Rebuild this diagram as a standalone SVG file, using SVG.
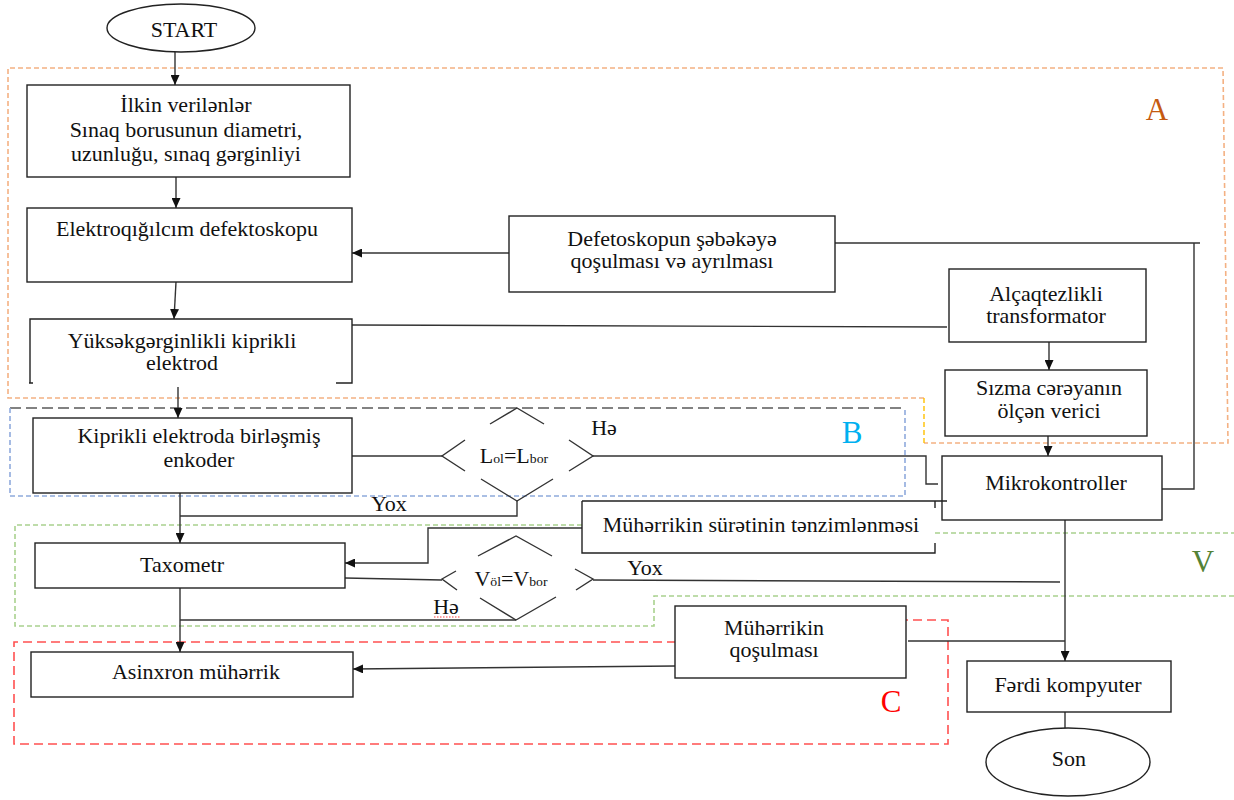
<svg xmlns="http://www.w3.org/2000/svg" width="1234" height="800" viewBox="0 0 1234 800">
<style>
.bg{fill:#fff}
.box{fill:#fff;stroke:#222;stroke-width:1.4}
.open{fill:none;stroke:#222;stroke-width:1.4}
.ln{fill:none;stroke:#333;stroke-width:1.4}
.arr{marker-end:url(#ah)}
.t{font-family:'Liberation Serif','DejaVu Serif',serif;font-size:20px;fill:#111;text-anchor:middle;transform-box:fill-box;transform-origin:center;transform:scaleX(1.1)}
.sub{font-size:12.5px}
.big{font-family:'Liberation Serif','DejaVu Serif',serif;font-size:31px;text-anchor:middle}
.dA{fill:none;stroke:#F4B183;stroke-width:1.6;stroke-dasharray:5 3}
.dY{fill:none;stroke:#FFC000;stroke-width:1.4;stroke-dasharray:5 3}
.dBt{fill:none;stroke:#595959;stroke-width:1.6;stroke-dasharray:11 5}
.dB{fill:none;stroke:#8FAADC;stroke-width:1.6;stroke-dasharray:5 3}
.dV{fill:none;stroke:#A9D18E;stroke-width:1.6;stroke-dasharray:5 3}
.dC{fill:none;stroke:#FF5050;stroke-width:1.6;stroke-dasharray:9 5}
.sq{fill:none;stroke:#FF4040;stroke-width:1.2;stroke-dasharray:1.5 1.5}
</style>
<defs>
<marker id="ah" markerUnits="userSpaceOnUse" markerWidth="10" markerHeight="9" refX="10" refY="4.5" orient="auto">
<path d="M0,0 L10,4.5 L0,9 z" fill="#111"/>
</marker>
</defs>
<rect class="bg" x="0" y="0" width="1234" height="800"/>

<g id="regions">
<path class="dA" d="M924,398 H8 V68 H1223 L1228,443 H924"/>
<path class="dY" d="M924,398 V443"/>
<text class="big" x="1157" y="120" fill="#C55A11">A</text>
<path class="dBt" d="M10,408 H905"/>
<path class="dB" d="M10,408 V496 H905 V408"/>
<text class="big" x="852" y="443" fill="#00B0F0">B</text>
<path class="dV" d="M582,525 H15 V626 H654 V596 H1234"/>
<path class="dV" d="M935,533 H1234"/>
<text class="big" x="1203" y="572" fill="#548235">V</text>
<path class="dC" d="M676,642 H14 V744 H948 V620 H902"/>
<text class="big" x="891" y="712" fill="#FF0000">C</text>
</g>

<g id="connectors">
<path class="ln arr" d="M175,52 V85"/>
<path class="ln arr" d="M176,177 V208"/>
<path class="ln arr" d="M176,282 L174,319"/>
<path class="ln arr" d="M509,253 H352"/>
<path class="ln" d="M352,325 L947,327"/>
<path class="ln" d="M835,243 H1200 M1194,243 V489 H1162"/>
<path class="ln arr" d="M1049,342 V370"/>
<path class="ln arr" d="M1048,436 V456"/>
<path class="ln arr" d="M178,387 V418"/>
<path class="ln" d="M352,456 H442"/>
<path class="ln" d="M593,456 H926 V484 H938"/>
<path class="ln" d="M517,501 V516 H180"/>
<path class="ln arr" d="M180,493 V543"/>
<path class="ln arr" d="M582,528 H428 V563 H345"/>
<path class="ln" d="M345,578 L442,580"/>
<path class="ln" d="M593,580 L1060,582"/>
<path class="ln" d="M516,620 H180"/>
<path class="ln arr" d="M180,588 V652"/>
<path class="ln arr" d="M1065,520 V661"/>
<path class="ln" d="M908,641 H1065"/>
<path class="ln arr" d="M676,666 L353,669"/>
<path class="ln" d="M1065,712 V730"/>
<text class="t" x="604" y="435">Hə</text>
<text class="t" x="389" y="511">Yox</text>
<text class="t" x="645" y="575">Yox</text>
<text class="t" x="446" y="614">Hə</text>
<path class="sq" d="M434,617 H461"/>
</g>

<g id="start">
<ellipse class="box" cx="181" cy="28" rx="74" ry="24"/>
<text class="t" x="184" y="37">START</text>
</g>

<g id="ilkin">
<rect class="box" x="27" y="85" width="323" height="92"/>
<text class="t" x="186" y="112">İlkin verilənlər</text>
<text class="t" x="186" y="137">Sınaq borusunun diametri,</text>
<text class="t" x="186" y="161">uzunluğu, sınaq gərginliyi</text>
</g>

<g id="defektoskop">
<rect class="box" x="27" y="208" width="325" height="74"/>
<text class="t" x="187" y="236">Elektroqığılcım defektoskopu</text>
</g>

<g id="elektrod">
<path class="open" d="M336,383 H352 V319 H30 V383 M29,383 H33"/>
<text class="t" x="182" y="348">Yüksəkgərginlikli kiprikli</text>
<text class="t" x="182" y="370">elektrod</text>
</g>

<g id="sebeke">
<rect class="box" x="509" y="216" width="326" height="76"/>
<text class="t" x="672" y="246">Defetoskopun şəbəkəyə</text>
<text class="t" x="672" y="268">qoşulması və ayrılması</text>
</g>

<g id="transformator">
<rect class="box" x="949" y="269" width="197" height="73"/>
<text class="t" x="1046" y="301">Alçaqtezlikli</text>
<text class="t" x="1046" y="323">transformator</text>
</g>

<g id="verici">
<rect class="box" x="945" y="370" width="202" height="66"/>
<text class="t" x="1049" y="395">Sızma cərəyanın</text>
<text class="t" x="1049" y="418">ölçən verici</text>
</g>

<g id="mikrokontroller">
<rect class="box" x="942" y="456" width="220" height="64"/>
<text class="t" x="1056" y="490">Mikrokontroller</text>
</g>

<g id="enkoder">
<rect class="box" x="33" y="418" width="319" height="75"/>
<text class="t" x="199" y="443">Kiprikli elektroda birləşmiş</text>
<text class="t" x="199" y="467">enkoder</text>
</g>

<g id="qerarL">
<path class="ln" d="M490,424 L517,408 L544,424 M465,440 L442,456 L465,471 M569,440 L593,456 L569,471 M481,479 L517,501 L553,479"/>
<text class="t" x="514" y="463">L<tspan class="sub">ol</tspan>=L<tspan class="sub">bor</tspan></text>
</g>

<g id="suret">
<path class="open" d="M582,501 H947 M582,501 V553 H935 V543 M935,501 V508"/>
<text class="t" x="761" y="532">Mühərrikin sürətinin tənzimlənməsi</text>
</g>

<g id="taxometr">
<rect class="box" x="35" y="543" width="310" height="45"/>
<text class="t" x="182" y="572">Taxometr</text>
</g>

<g id="qerarV">
<path class="ln" d="M478,556 L516,536 L552,556 M456,571 L442,579 L457,590 M575,569 L593,579 L576,590 M480,598 L516,620 L556,597"/>
<text class="t" x="511" y="586">V<tspan class="sub">öl</tspan>=V<tspan class="sub">bor</tspan></text>
</g>

<g id="asinxron">
<rect class="box" x="31" y="652" width="322" height="45"/>
<text class="t" x="196" y="679">Asinxron mühərrik</text>
</g>

<g id="qosulma">
<rect class="box" x="675" y="606" width="231" height="72"/>
<text class="t" x="774" y="635">Mühərrikin</text>
<text class="t" x="774" y="657">qoşulması</text>
</g>

<g id="kompyuter">
<rect class="box" x="967" y="661" width="204" height="51"/>
<text class="t" x="1068" y="692">Fərdi kompyuter</text>
</g>

<g id="son">
<ellipse class="box" cx="1068" cy="762" rx="82" ry="34"/>
<text class="t" x="1069" y="766">Son</text>
</g>
</svg>
